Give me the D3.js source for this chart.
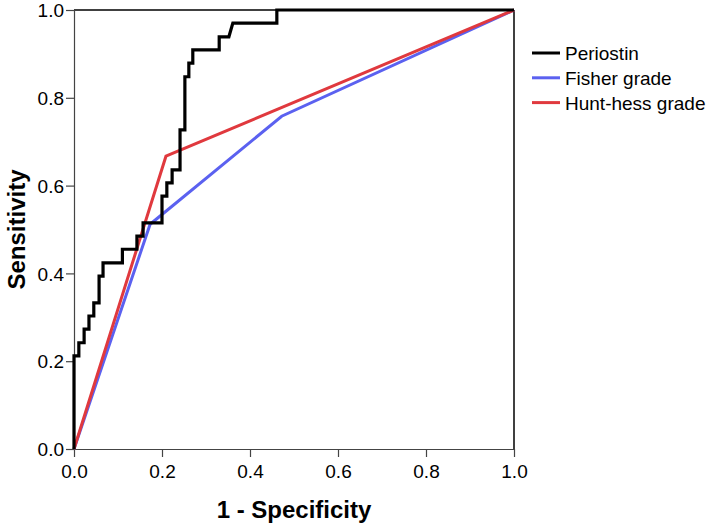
<!DOCTYPE html>
<html>
<head>
<meta charset="utf-8">
<script src="https://cdn.jsdelivr.net/npm/d3@7"></script>
<style>
  body { margin: 0; background: #fff; }
  text { font-family: "Liberation Sans", Arial, sans-serif; }
</style>
</head>
<body>
<div id="chart-area"></div>
<script>
// ROC curve points (1 - specificity, sensitivity)
var periostinFpr = [0, 0, 0.011, 0.011, 0.023, 0.023, 0.034, 0.034, 0.045, 0.045, 0.057, 0.057,
    0.066, 0.066, 0.110, 0.110, 0.143, 0.143, 0.157, 0.157, 0.200, 0.200, 0.211, 0.211,
    0.223, 0.223, 0.241, 0.241, 0.252, 0.252, 0.261, 0.261, 0.270, 0.270, 0.330, 0.330,
    0.352, 0.361, 0.461, 0.461, 1.0];
var periostinTpr = [0, 0.212, 0.212, 0.242, 0.242, 0.273, 0.273, 0.303, 0.303, 0.333, 0.333, 0.394,
    0.394, 0.424, 0.424, 0.455, 0.455, 0.485, 0.485, 0.515, 0.515, 0.576, 0.576, 0.606,
    0.606, 0.636, 0.636, 0.727, 0.727, 0.848, 0.848, 0.879, 0.879, 0.909, 0.909, 0.939,
    0.939, 0.970, 0.970, 1.0, 1.0];
var fisherFpr = [0, 0.173, 0.472, 1.0];
var fisherTpr = [0, 0.512, 0.758, 1.0];
var huntFpr = [0, 0.209, 1.0];
var huntTpr = [0, 0.667, 1.0];

var seriesNames = ['Periostin', 'Fisher grade', 'Hunt-hess grade'];
var seriesColors = ['#000000', '#5b61f0', '#e0393e'];
var tickValues = [0, 0.2, 0.4, 0.6, 0.8, 1.0];

var margin = { left: 74, right: 195, top: 10, bottom: 79 };
var width = 709 - margin.left - margin.right,
    height = 528 - margin.top - margin.bottom;

var svg = d3.select('#chart-area')
    .append('svg')
    .attr('width', 709)
    .attr('height', 528);

var g = svg.append('g')
    .attr('transform', 'translate(' + margin.left + ', ' + margin.top + ')');

var xScale = d3.scaleLinear().domain([0, 1]).range([0, width]);
var yScale = d3.scaleLinear().domain([0, 1]).range([height, 0]);

// frame: top and right
g.append('line')
    .attr('x1', 0).attr('x2', width).attr('y1', 0).attr('y2', 0)
    .attr('stroke', '#000').attr('stroke-width', 1.5);
g.append('line')
    .attr('x1', width).attr('x2', width).attr('y1', 0).attr('y2', height)
    .attr('stroke', '#000').attr('stroke-width', 1.5);

var xAxis = g.append('g')
    .attr('transform', 'translate(0, ' + height + ')')
    .call(d3.axisBottom(xScale).tickValues(tickValues).tickFormat(d3.format('.1f')).tickSize(8).tickSizeOuter(0));
var yAxis = g.append('g')
    .call(d3.axisLeft(yScale).tickValues(tickValues).tickFormat(d3.format('.1f')).tickSize(8).tickSizeOuter(0));

[xAxis, yAxis].forEach(function(ax) {
    ax.select('.domain').attr('stroke', '#444').attr('stroke-width', 1.2);
    ax.selectAll('.tick line').attr('stroke', '#444').attr('stroke-width', 1.2);
    ax.selectAll('.tick text')
        .attr('font-size', '19px')
        .attr('font-family', '"Liberation Sans", Arial, sans-serif')
        .attr('fill', '#000');
});
xAxis.selectAll('.tick text').attr('dy', null).attr('y', 29);
yAxis.selectAll('.tick text').attr('x', -10).attr('dy', '0.35em');

var line = d3.line()
    .x(function(d) { return xScale(d[0]); })
    .y(function(d) { return yScale(d[1]); });

var series = [
    d3.zip(fisherFpr, fisherTpr),
    d3.zip(huntFpr, huntTpr),
    d3.zip(periostinFpr, periostinTpr)
];
var seriesOrder = [1, 2, 0];

series.forEach(function(pts, i) {
    g.append('path')
        .datum(pts)
        .attr('d', line)
        .attr('fill', 'none')
        .attr('stroke', seriesColors[seriesOrder[i]])
        .attr('stroke-width', seriesOrder[i] === 0 ? 3.2 : 3)
        .attr('stroke-linejoin', 'miter');
});

// axis titles
svg.append('text')
    .text('1 - Specificity')
    .attr('x', margin.left + width / 2)
    .attr('y', 518)
    .attr('text-anchor', 'middle')
    .attr('font-size', '24px')
    .attr('font-weight', 'bold');

svg.append('text')
    .text('Sensitivity')
    .attr('transform', 'translate(25, ' + (margin.top + height / 2) + ') rotate(-90)')
    .attr('text-anchor', 'middle')
    .attr('font-size', '24px')
    .attr('font-weight', 'bold');

// legend
var legend = svg.append('g').attr('transform', 'translate(532, 53)');
seriesNames.forEach(function(name, i) {
    var row = legend.append('g').attr('transform', 'translate(0, ' + (i * 24.8) + ')');
    row.append('line')
        .attr('x1', 0).attr('x2', 28).attr('y1', 0).attr('y2', 0)
        .attr('stroke', seriesColors[i]).attr('stroke-width', 3);
    row.append('text')
        .text(name)
        .attr('x', 33)
        .attr('y', 7)
        .attr('font-size', '19px');
});
</script>
</body>
</html>
